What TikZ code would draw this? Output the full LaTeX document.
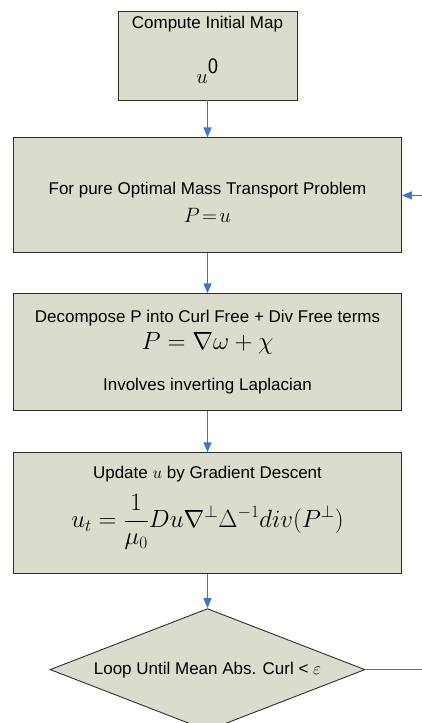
\documentclass[tikz,border=0pt]{standalone}
\usepackage{amsmath}
\usepackage{fontspec}
\setmainfont{Liberation Sans}
\usetikzlibrary{arrows.meta,positioning,shapes.geometric}
\definecolor{cfill}{HTML}{DCDCCE}
\definecolor{cedge}{HTML}{2E2E2E}
\definecolor{cflow}{HTML}{4472C4}

\begin{document}
\begin{tikzpicture}[x=1pt, y=1pt,
    box/.style={draw=cedge, fill=cfill, line width=0.9pt, inner sep=0pt,
      minimum width=388pt, align=center, font=\fontsize{17}{20}\selectfont},
    dec/.style={diamond, draw=cedge, fill=cfill, line width=0.9pt, inner sep=0pt,
      shape aspect=2.6, minimum width=315pt, minimum height=122pt,
      font=\fontsize{17}{20}\selectfont},
    flow/.style={-{Triangle[length=10pt, width=8pt]}, cflow, line width=1.3pt}]
  \useasboundingbox (0,0) rectangle (422,-723);
  \clip (0,0) rectangle (422,-723);

  \node[box, minimum width=179pt, minimum height=89pt] (init) at (207.5,-55.5)
       {Compute Initial Map\\[26pt]
        {\fontsize{22}{22}\selectfont$u^{\raisebox{2pt}{\textsf{0}}}$}\\[-8pt]};
  \node[box, minimum height=115pt, below=37pt of init] (pure)
       {\\[6pt]For pure Optimal Mass Transport Problem\\[8pt]
        {\fontsize{21}{21}\selectfont$P\!=\!u$}};
  \node[box, minimum height=117pt, below=40pt of pure] (split)
       {Decompose P into Curl Free + Div Free terms\\[6pt]
        {\fontsize{24}{24}\selectfont$P=\nabla\omega+\chi$}\\[21pt]
        Involves inverting Laplacian};
  \node[box, minimum height=121pt, below=41pt of split] (grad)
       {Update $u$ by Gradient Descent\\[12pt]
        {\fontsize{25}{25}\selectfont$\displaystyle u_t=\frac{1}{\mu_0}Du\nabla^{\perp}\Delta^{-1}div(P^{\perp})$}\\[10pt]};
  \node[dec, below=34pt of grad] (loop) {Loop Until Mean Abs. Curl < $\varepsilon$};

  \draw[flow] (init) -- (pure);
  \draw[flow] (pure) -- (split);
  \draw[flow] (split) -- (grad);
  \draw[flow] (grad) -- (loop);
  \draw[flow] (loop.east) -| ([xshift=40pt]pure.east) -- (pure.east);
\end{tikzpicture}
\end{document}
